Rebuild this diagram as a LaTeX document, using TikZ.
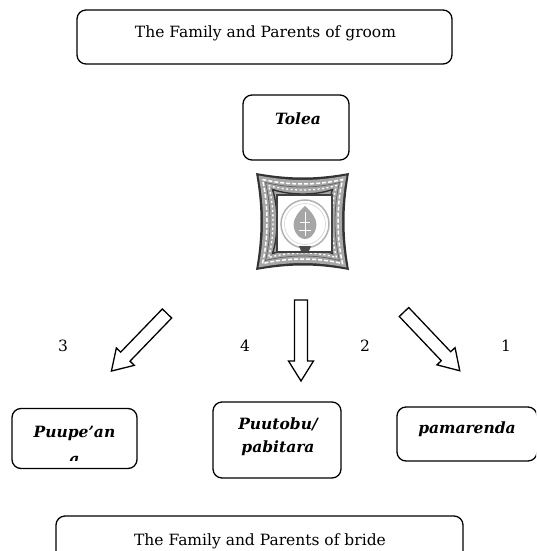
\documentclass[tikz,border=0pt]{standalone}
\usepackage{fontspec}
\setmainfont{DejaVu Serif}
\newcommand\cushionpath[1]{(256+#1,173+#1) .. controls (290,179+#1) and (316,179+#1) .. (349-#1,173+#1)
  .. controls (343-#1,207) and (343-#1,236) .. (349-#1,270-#1)
  .. controls (316,264-#1) and (290,264-#1) .. (256+#1,270-#1)
  .. controls (262+#1,236) and (262+#1,207) .. (256+#1,173+#1) -- cycle}
\begin{document}
\begin{tikzpicture}[x=1pt,y=-1pt,
  box/.style={draw=black, line width=1.3pt, rounded corners=9pt, fill=white, inner sep=0pt},
  plain/.style={font=\fontsize{15.5}{18}\selectfont, inner sep=0pt},
  lab/.style={font=\fontsize{15.5}{23}\selectfont\bfseries\itshape, inner sep=0pt, align=center},
  num/.style={font=\fontsize{15.5}{18}\selectfont, inner sep=0pt},
  arrowline/.style={draw=black, line width=1.3pt, fill=white, line join=miter},
  pics/blockarrow/.style={code={\draw[arrowline] (0,-6.5) -- (#1-20,-6.5) -- (#1-20,-12.5) -- (#1,0) -- (#1-20,12.5) -- (#1-20,6.5) -- (0,6.5) -- cycle;}}
]
\clip (0,0) rectangle (536,551);
\fill[white] (0,0) rectangle (536,551);

% top box
\node[box, minimum width=375pt, minimum height=54pt] (groom) at (264.5,37) {};
\node[plain] (groomtext) at (265.5,33) {The Family and Parents of groom};

% Tolea
\node[box, minimum width=106pt, minimum height=65pt] (tolea) at (296,127.5) {};
\node[lab] (toleatext) at (298,119) {Tolea};

% emblem
\begin{scope}
  \fill[black!80] \cushionpath{0};
  \fill[gray!70] \cushionpath{2.5};
  \draw[white, line width=1.5pt, dash pattern=on 4pt off 2pt] \cushionpath{6.5};
  \draw[black!60, line width=0.8pt] \cushionpath{9.5};
  \draw[white, line width=1.3pt, dash pattern=on 2pt off 2.5pt] \cushionpath{12.5};
  \draw[black!80, line width=1.4pt] \cushionpath{16.5};
  \draw[black!75, line width=1.2pt, fill=white] (277,195) rectangle (332,252);
  \draw[gray!60, line width=1.5pt] (305,224) circle (24);
  \draw[gray!35, line width=0.6pt] (305,224) circle (20.5);
  \fill[gray!70] (305,206) .. controls (312,212) and (318,220) .. (316,228)
    .. controls (314,236) and (309,239) .. (305,239)
    .. controls (301,239) and (296,236) .. (294,228)
    .. controls (292,220) and (298,212) .. (305,206) -- cycle;
  \draw[white, line width=0.6pt] (305,212) -- (305,236) (300,222) -- (310,222) (299,230) -- (311,230);
  \fill[black!70] (299,246) -- (311,246) -- (309,251) -- (301,251) -- cycle;
\end{scope}

% arrows
\pic[rotate=-134] (arrL) at (167,313.5) {blockarrow=80};
\pic[rotate=-90] (arrC) at (301,300) {blockarrow=81};
\pic[rotate=-46.5] (arrR) at (404,312) {blockarrow=81};

% numbers
\node[num] (n3) at (63,346) {3};
\node[num] (n4) at (245,346) {4};
\node[num] (n2) at (365,346) {2};
\node[num] (n1) at (506,346) {1};

% bottom boxes
\node[box, minimum width=125pt, minimum height=60pt] (puupe) at (74.5,438.5) {};
\node[lab] (puupetext) at (74.5,433) {Puupe’an};
\begin{scope}
  \clip (14,410) rectangle (135,460.5);
  \node[lab] (puupetexta) at (74.5,460.5) {a};
\end{scope}

\node[box, minimum width=128pt, minimum height=76pt] (puutobu) at (277,440) {};
\node[lab] (puutobutext) at (278,436.5) {Puutobu/\\pabitara};

\node[box, minimum width=140pt, minimum height=54pt] (pamarenda) at (467,434) {};
\node[lab] (pamarendatext) at (467,429) {pamarenda};

% bride box
\node[box, minimum width=407pt, minimum height=60pt] (bride) at (259.5,546) {};
\node[plain] (bridetext) at (260,541) {The Family and Parents of bride};
\end{tikzpicture}
\end{document}
